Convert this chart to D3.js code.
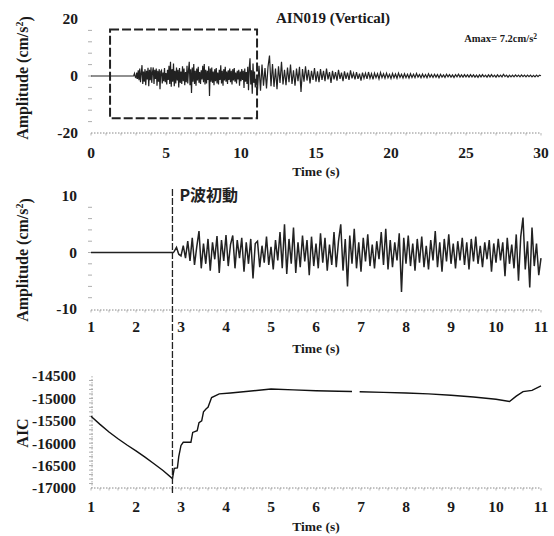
<!DOCTYPE html>
<html><head><meta charset="utf-8">
<script src="https://cdn.jsdelivr.net/npm/d3@7"></script>
<style>
body{margin:0;background:#fff;}
svg{display:block;}
.num{font-family:"Liberation Serif","Times New Roman",serif;font-weight:bold;font-size:15.5px;fill:#1a1a1a;}
.ttl{font-family:"Liberation Serif","Times New Roman",serif;font-weight:bold;fill:#1a1a1a;}
</style></head>
<body>
<svg id="chart" width="554" height="536"></svg>
<script>
// ---------------- data ----------------
const title = "AIN019 (Vertical)";
const amaxLabel = "Amax= 7.2cm/s";
const pickLabel = "P波初動";
const pickTime = 2.81;                // P-wave onset (s)
const boxWindow = [1.27, 11.07];      // highlighted window in top panel (s)
const boxAmp = [-14.8, 16.3];         // highlighted window amplitude range

const xTicksTop = [0, 5, 10, 15, 20, 25, 30];
const yTicksTop = [20, 0, -20];
const xTicksZoom = [1, 2, 3, 4, 5, 6, 7, 8, 9, 10, 11];
const yTicksZoom = [10, 0, -10];
const yTicksAIC = [-14500, -15000, -15500, -16000, -16500, -17000];

// acceleration record, sampled every 0.05 s starting at 2.85 s (cm/s^2)
const accStart = 2.85, accDt = 0.05;
const accel = [
 0.2, 0.9, -0.3, -0.6,
 1.2, -1.0, 2.0, -1.5, 2.6, -2.2, 1.0, 3.8, -2.8, 1.6,
 -2.0, 2.4, -3.2, 1.8, -1.2, 2.9, -3.6, 2.2, -1.5, 3.1,
 -2.4, 1.4, 3.0, -2.8, 2.2, -1.0, 2.6, -3.4, 1.8, -2.0,
 2.4, -4.6, 1.6, 2.0, -2.6, 1.2, -1.8, 2.8, -2.2, 1.0,
 -3.0, 2.2, -1.4, 3.6, -2.8, 5.0, -3.8, 2.4, -2.0, 4.4,
 -3.6, 1.8, -2.6, 3.0, -1.6, 2.2, -4.0, 2.8, -2.4, 1.6,
 -2.8, 3.4, -1.8, 2.6, -3.2, 1.4, -2.2, 3.6, -2.6, 2.0,
 5.0, -3.2, 2.4, -6.0, 3.0, -2.0, 4.2, -2.8, 1.8, -3.4,
 2.6, -1.6, 3.2, -2.4, 1.4, -2.8, 2.0, -1.2, 3.6, -2.2,
 4.2, -3.0, 2.2, -2.6, 1.8, -1.4, 3.4, -7.0, 2.6, -2.0,
 3.0, -2.4, 1.6, -3.2, 2.4, -1.8, 2.8, -2.6, 1.2, -3.0,
 2.2, -1.4, 3.8, -2.6, 1.8, -3.4, 2.4, -1.6, 3.2, -2.0,
 1.6, -2.8, 2.0, -1.4, 2.6, -2.2, 1.8, -3.0, 2.4, -1.6,
 2.8, -2.0, 1.2, -2.6, 1.8, -1.2, 2.2, -3.4, 1.6, -1.8,
 2.4, -1.4, 1.8, -4.2, 2.6, -2.0, 1.4, -2.8, 3.2, -5.0,
 2.8, 6.2, -3.0, 2.0, -6.2, 4.4, -2.4, 1.6, -4.0, -1.0
];
// coda, sampled every 0.1 s starting at 11.1 s (cm/s^2)
const codaStart = 11.1, codaDt = 0.1;
const coda = [
 -4.8, 3.6, -5.2, 4.0, -3.4, 2.8, -4.4, 3.2, 7.2, -3.6,
 4.2, -3.8, 2.6, -4.6, 3.4, -2.4, 5.0, -3.0, 2.2, -3.2,
 3.0, -2.2, 4.0, -2.8, 2.0, -3.4, 2.6, -1.8, 3.2, -5.6,
 2.4, -2.0, 3.4, -1.6, 2.2, -2.6, 1.8, -1.4, 2.8, -2.0,
 1.6, -2.2, 2.4, -1.4, 1.8, -1.8, 2.6, -1.2, 1.4, -2.4,
 1.8, -1.2, 1.4, -1.6, 2.2, -1.0, 1.2, -1.8, 1.6, -1.0,
 1.2, -1.4, 2.0, -0.8, 1.0, -1.2, 1.4, -1.0, 0.8, -1.6,
 1.2, -0.8, 1.0, -1.0, 1.4, -0.8, 0.8, -1.2, 1.0, -0.6,
 0.8, -1.0, 1.2, -0.6, 0.8, -0.8, 1.0, -0.6, 0.6, -0.9,
 0.9, -0.6, 0.7, -0.8, 1.0, -0.5, 0.6, -0.7, 0.8, -0.6,
 0.6, -0.7, 0.8, -0.5, 0.6, -0.6, 0.9, -0.4, 0.5, -0.6,
 0.7, -0.5, 0.5, -0.6, 0.8, -0.4, 0.5, -0.5, 0.6, -0.4,
 0.5, -0.6, 0.6, -0.4, 0.4, -0.5, 0.6, -0.3, 0.5, -0.4,
 0.4, -0.5, 0.5, -0.3, 0.6, -0.4, 0.4, -0.4, 0.5, -0.3,
 0.4, -0.4, 0.5, -0.3, 0.4, -0.4, 0.3, -0.5, 0.4, -0.3,
 0.5, -0.3, 0.3, -0.4, 0.4, -0.3, 0.5, -0.3, 0.3, -0.4,
 0.4, -0.3, 0.3, -0.3, 0.6, -0.2, 0.3, -0.4, 0.3, -0.3,
 0.3, -0.3, 0.4, -0.2, 0.3, -0.3, 0.4, -0.2, 0.3, -0.3,
 0.3, -0.2, 0.3, -0.3, 0.2, -0.3, 0.3, -0.2, 0.3, 0.1
];
// AIC function (null = gap in the curve)
const aicTime = [1.0, 1.2, 1.4, 1.6, 1.8, 2.0, 2.2, 2.4, 2.6, 2.81,
 2.85, 2.92, 2.95, 3.0, 3.05, 3.22, 3.26, 3.36, 3.4, 3.46,
 3.5, 3.56, 3.6, 3.68, 3.85, 4.1, 4.5, 5.0, 5.5, 6.0,
 6.5, 6.8, 6.88, 6.97, 7.5, 8.0, 8.5, 9.0, 9.5, 10.0,
 10.3, 10.45, 10.6, 10.8, 11.0];
const aicValue = [-15400, -15580, -15750, -15900, -16040, -16170, -16310, -16460, -16610, -16790,
 -16560, -16550, -16300, -16050, -15980, -15980, -15760, -15720, -15540, -15500,
 -15300, -15230, -15200, -14980, -14900, -14880, -14840, -14790, -14810, -14830,
 -14840, -14845, null, -14850, -14865, -14880, -14900, -14930, -14970, -15020,
 -15070, -14950, -14850, -14820, -14720];

// ---------------- build series ----------------
const preEvent = [[0, 0], [accStart - 0.02, 0]];
const accelPts = accel.map((v, i) => [accStart + i * accDt, v]);
const codaPts = coda.map((v, i) => [codaStart + i * codaDt, v]);
const topSeries = preEvent.concat(accelPts, codaPts);
const zoomSeries = [[1, 0], [accStart - 0.02, 0]].concat(accelPts.filter(d => d[0] <= 11.0001));
const aicSeries = aicTime.map((t, i) => [t, aicValue[i]]);

const svg = d3.select("#chart");

// ---------------- helpers ----------------
function bottomAxis(x, y0, minorStep) {
  const [a, b] = x.domain();
  svg.append("line").attr("x1", x(a)).attr("x2", x(b)).attr("y1", y0).attr("y2", y0)
    .attr("stroke", "#888").attr("stroke-width", 1).attr("stroke-dasharray", "1.5,1.5");
  const minors = d3.range(a, b + 1e-9, minorStep);
  svg.append("g").selectAll("line").data(minors).join("line")
    .attr("x1", d => x(d)).attr("x2", d => x(d)).attr("y1", y0).attr("y2", y0 + 2.5)
    .attr("stroke", "#999").attr("stroke-width", 0.7);
}
function tickLabelsX(x, yb, ticks) {
  svg.append("g").selectAll("text").data(ticks).join("text").attr("class", "num")
    .attr("x", d => x(d)).attr("y", yb).attr("text-anchor", "middle").text(d => d);
}
function tickLabelsY(y, xr, ticks) {
  svg.append("g").selectAll("text").data(ticks).join("text").attr("class", "num")
    .attr("x", xr).attr("y", d => y(d)).attr("dy", "0.35em").attr("text-anchor", "end")
    .text(d => (d < 0 ? "-" + Math.abs(d) : d));
}
function leftMinor(y, x0, vals) {
  svg.append("g").selectAll("line").data(vals).join("line")
    .attr("x1", x0 - 3).attr("x2", x0 + 1).attr("y1", d => y(d)).attr("y2", d => y(d))
    .attr("stroke", "#999").attr("stroke-width", 0.8);
}
function timeTitle(cx, yb) {
  svg.append("text").attr("class", "ttl").attr("x", cx).attr("y", yb)
    .attr("text-anchor", "middle").attr("font-size", 13.5).text("Time (s)");
}
function yTitle(cx, cy, node) {
  const t = svg.append("text").attr("class", "ttl").attr("font-size", 16)
    .attr("transform", `translate(${cx},${cy}) rotate(-90)`).attr("text-anchor", "middle")
    .attr("dy", "0.35em");
  node(t);
}
const ampTitle = t => {
  t.text("Amplitude  (cm/s");
  t.append("tspan").attr("font-size", 10).attr("dy", "-0.5em").text("2");
  t.append("tspan").attr("dy", "0.5em").text(")");
};

// ---------------- panel 1 ----------------
const x1 = d3.scaleLinear().domain([0, 30]).range([91, 541]);
const y1 = d3.scaleLinear().domain([-20, 20]).range([133, 19]);
bottomAxis(x1, 133, 1);
leftMinor(y1, 91, d3.range(-16, 17, 4));
tickLabelsX(x1, 158, xTicksTop);
tickLabelsY(y1, 78, yTicksTop);
timeTitle(316, 176);
yTitle(22, 78, ampTitle);

svg.append("path").datum(topSeries)
  .attr("d", d3.line().x(d => x1(d[0])).y(d => y1(d[1])))
  .attr("fill", "none").attr("stroke", "#222").attr("stroke-width", 1.2);

svg.append("rect").attr("x", x1(boxWindow[0])).attr("y", y1(boxAmp[1]))
  .attr("width", x1(boxWindow[1]) - x1(boxWindow[0])).attr("height", y1(boxAmp[0]) - y1(boxAmp[1]))
  .attr("fill", "none").attr("stroke", "#222").attr("stroke-width", 2).attr("stroke-dasharray", "9,3");

svg.append("text").attr("class", "ttl").attr("font-size", 15).attr("x", 333).attr("y", 23)
  .attr("text-anchor", "middle").text(title);
const am = svg.append("text").attr("class", "ttl").attr("font-size", 10.5).attr("x", 537).attr("y", 42)
  .attr("text-anchor", "end").text(amaxLabel);
am.append("tspan").attr("font-size", 7.5).attr("dy", "-0.45em").text("2");

// ---------------- panel 2 ----------------
const x2 = d3.scaleLinear().domain([1, 11]).range([91, 541]);
const y2 = d3.scaleLinear().domain([-10, 10]).range([309, 196]);
bottomAxis(x2, 310, 0.2);
leftMinor(y2, 91, d3.range(-8, 9, 2));
tickLabelsX(x2, 332, xTicksZoom);
tickLabelsY(y2, 77, yTicksZoom);
timeTitle(316, 353);
yTitle(22, 260, ampTitle);

svg.append("path").datum(zoomSeries)
  .attr("d", d3.line().x(d => x2(d[0])).y(d => y2(d[1])))
  .attr("fill", "none").attr("stroke", "#222").attr("stroke-width", 1.5);

svg.append("text").attr("x", x2(pickTime) + 7).attr("y", 201)
  .attr("font-family", '"Noto Sans CJK JP","Noto Sans",sans-serif').attr("font-weight", "bold")
  .attr("font-size", 16).attr("fill", "#222").text(pickLabel);

// ---------------- panel 3 ----------------
const x3 = d3.scaleLinear().domain([1, 11]).range([91, 541]);
const y3 = d3.scaleLinear().domain([-17000, -14500]).range([488, 376]);
bottomAxis(x3, 488, 0.2);
svg.append("line").attr("x1", 92).attr("x2", 92).attr("y1", y3(-14500)).attr("y2", 488)
  .attr("stroke", "#999").attr("stroke-width", 0.8).attr("stroke-dasharray", "1.5,1.5");
leftMinor(y3, 92, d3.range(-16900, -14500, 100));
tickLabelsX(x3, 512, xTicksZoom);
tickLabelsY(y3, 76, yTicksAIC);
timeTitle(316, 531);
yTitle(22, 433, t => t.text("AIC"));

svg.append("path").datum(aicSeries)
  .attr("d", d3.line().defined(d => d[1] !== null).x(d => x3(d[0])).y(d => y3(d[1])))
  .attr("fill", "none").attr("stroke", "#111").attr("stroke-width", 1.4);

// P-wave onset line through panels 2 and 3
svg.append("line").attr("x1", x2(pickTime)).attr("x2", x2(pickTime)).attr("y1", 189).attr("y2", 495)
  .attr("stroke", "#222").attr("stroke-width", 1.3).attr("stroke-dasharray", "7,2");
</script>
</body></html>
